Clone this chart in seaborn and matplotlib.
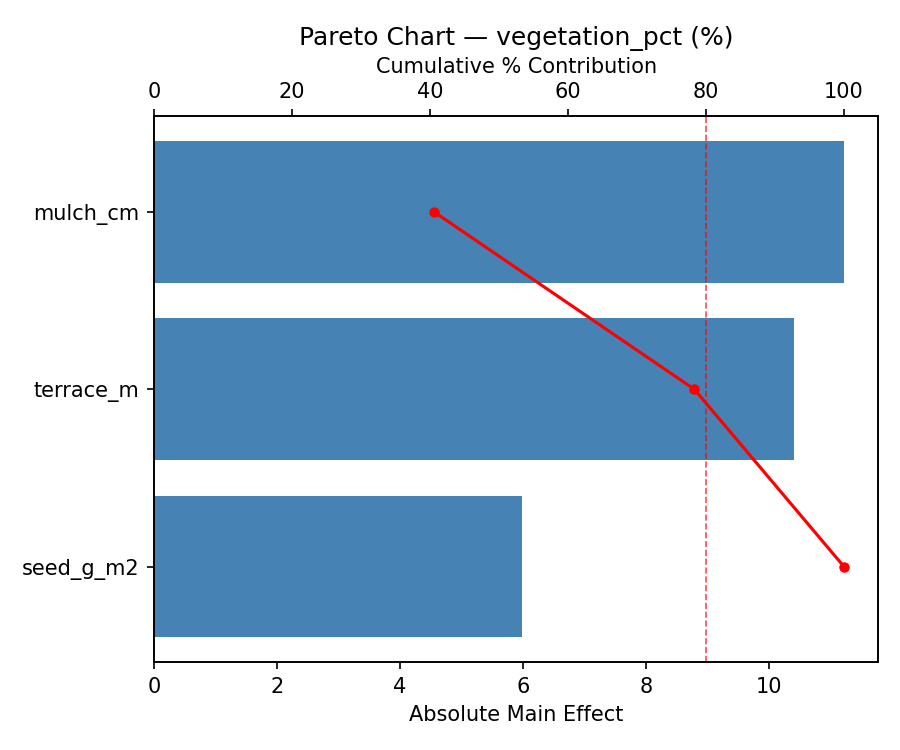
import matplotlib
matplotlib.use("Agg")
import matplotlib.pyplot as plt
import numpy as np
import pandas as pd
import seaborn as sns

factors = ["mulch_cm", "terrace_m", "seed_g_m2"]
effects = [11.22, 10.41, 5.99]

data = pd.DataFrame({"factor": factors, "effect": effects})
cum_pct = np.cumsum(effects) / np.sum(effects) * 100

fig, ax = plt.subplots(figsize=(6, 5), dpi=150)
sns.barplot(data, x="effect", y="factor", orient="h", color="steelblue",
            saturation=1, width=0.8, ax=ax)
ax.set_xlim(0, max(effects) * 1.05)
ax.set_ylim(2.54, -0.54)
ax.set_xlabel("Absolute Main Effect")
ax.set_ylabel("")

ax2 = ax.twiny()
ax2.plot(cum_pct, range(len(factors)), color="red", marker="o",
         markersize=4, linewidth=1.5)
ax2.axvline(80, color="red", linestyle="--", linewidth=0.8, alpha=0.7)
ax2.set_xlim(0, 105)
ax2.set_xlabel("Cumulative % Contribution")
ax2.set_title("Pareto Chart — vegetation_pct (%)")

fig.subplots_adjust(left=0.171, right=0.976, top=0.845, bottom=0.117)
plt.savefig("out.png")
